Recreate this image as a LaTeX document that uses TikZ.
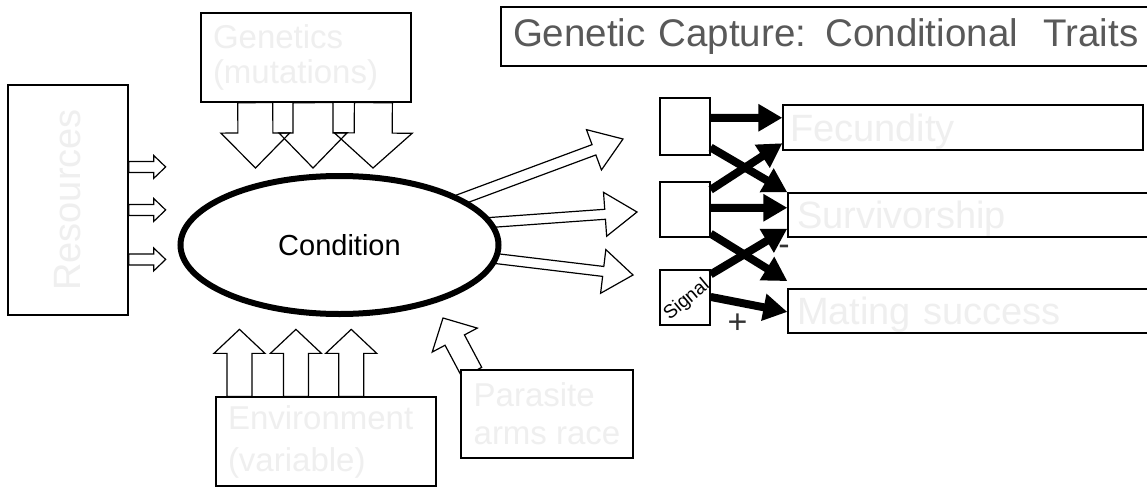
\documentclass[tikz,border=0pt]{standalone}
\usepackage{fontspec}
\setmainfont{Liberation Sans}
\usetikzlibrary{shapes.geometric,arrows.meta,calc}
\definecolor{faint}{HTML}{EFEFEF}
\definecolor{titlegrey}{HTML}{595959}
\definecolor{signgrey}{HTML}{333333}

% hollow block arrow: [style]{start}{tip}{shaft half width}{head half width}{head length}
\newcommand{\blockarrow}[6][]{%
  \coordinate (bah) at ($(#3)!#6!(#2)$);
  \path[hollow,#1] ($(#2)!#4!90:(#3)$) -- ($(bah)!#4!90:(#3)$) -- ($(bah)!#5!90:(#3)$)
    -- (#3) -- ($(bah)!#5!-90:(#3)$) -- ($(bah)!#4!-90:(#3)$) -- ($(#2)!#4!-90:(#3)$) -- cycle;}

\begin{document}
\begin{tikzpicture}[x=1pt,y=-1pt,
  box/.style={draw,line width=1.3pt,fill=white,inner sep=0pt},
  hollow/.style={draw,line width=1.2pt,line join=miter,fill=white},
  thickarrow/.style={line width=8pt,-{Triangle[length=24pt,width=26pt]}},
  bigtext/.style={text=faint,font=\fontsize{38}{44}\selectfont},
  midtext/.style={text=faint,align=left},
  signtext/.style={text=signgrey,font=\fontsize{34}{38}\selectfont,inner sep=0pt},
]
\clip (0,0) rectangle (1147,487);

% ---- title
\node[box,minimum height=59pt,text width=650pt,inner xsep=12pt,align=left,
      text=titlegrey,font=\fontsize{38.5}{44}\selectfont] (title) at (838,36.5)
  {Genetic Capture: Conditional~~Traits};

% ---- input boxes
\node[box,minimum width=120pt,minimum height=230pt,bigtext] (res) at (68,200)
  {\rotatebox{90}{Resources}};
\node[box,minimum width=210pt,minimum height=89pt,text width=186pt,inner xsep=12pt,
      midtext,font=\fontsize{33}{35}\selectfont] (gen) at (306,57.5)
  {Genetics\\(mutations)};
\node[box,minimum width=220pt,minimum height=89pt,text width=196pt,inner xsep=12pt,
      midtext,font=\fontsize{33}{42}\selectfont] (env) at (326,441.5)
  {Environment\\(variable)};

% ---- resources arrows
\foreach \i/\f in {1/0.357,2/0.543,3/0.757}{
  \coordinate (r\i s) at ($(res.north east)!\f!(res.south east)$);
  \coordinate (r\i t) at ($(r\i s)+(37,0)$);
  \blockarrow{r\i s}{r\i t}{5.5pt}{11.5pt}{12pt}
}

% ---- genetics arrows
\coordinate (g1s) at ($(gen.south west)!0.26!(gen.south east)$);
\coordinate (g2s) at ($(gen.south west)!0.533!(gen.south east)$);
\coordinate (g3s) at ($(gen.south west)!0.819!(gen.south east)$);
\coordinate (g1t) at (255.5,168);
\coordinate (g2t) at (313,168);
\coordinate (g3t) at (373,168);
\blockarrow[fill=none]{g1s}{g1t}{17.5pt}{34.5pt}{35pt}
\blockarrow[fill=none]{g2s}{g2t}{20pt}{34pt}{35pt}
\blockarrow[fill=none]{g3s}{g3t}{19pt}{39pt}{35pt}

% ---- environment arrows
\foreach \i/\f in {1/0.109,2/0.364,3/0.614}{
  \coordinate (e\i s) at ($(env.north west)!\f!(env.north east)$);
  \coordinate (e\i t) at ($(e\i s)+(0,-67)$);
  \blockarrow{e\i s}{e\i t}{12.5pt}{25.5pt}{24pt}
}

% ---- parasite arrow and box
\coordinate (pt) at (443,318);
\coordinate (ps) at (472,372.5);
\blockarrow{ps}{pt}{11pt}{25.5pt}{25pt}
\node[box,minimum width=172pt,minimum height=88pt,inner xsep=0pt,
      midtext,font=\fontsize{33}{38}\selectfont] (par) at (547,414)
  {Parasite\\arms race};

% ---- arrows out of the condition ellipse
\coordinate (oas) at (453,202.2);  \coordinate (oat) at (623,139);
\coordinate (obs) at (483,223);    \coordinate (obt) at (637,212);
\coordinate (ocs) at (487,257.5);  \coordinate (oct) at (633,275);
\blockarrow{oas}{oat}{5.5pt}{21.5pt}{31pt}
\blockarrow{obs}{obt}{5pt}{22pt}{32pt}
\blockarrow{ocs}{oct}{5pt}{22pt}{30pt}

% ---- condition
\node[draw,ellipse,line width=6pt,fill=white,minimum width=318pt,minimum height=138pt,
      font=\fontsize{29}{34}\selectfont] (cond) at (339.5,245) {Condition};

% ---- trait boxes
\node[box,minimum width=50pt,minimum height=57pt] (b1) at (685,126.5) {};
\node[box,minimum width=50pt,minimum height=55pt] (b2) at (685,209.5) {};
\node[box,minimum width=50pt,minimum height=55pt] (sig) at (685,297.5) {};
\node[rotate=40,inner sep=0pt,font=\fontsize{19}{22}\selectfont] (siglabel) at (687,300) {Signal};

\node[box,minimum width=360pt,minimum height=45pt,text width=346pt,inner xsep=7pt,
      align=left,bigtext,text depth=0pt] (fec) at (963,127.5) {Fecundity};
\node[box,minimum width=390pt,minimum height=44pt,text width=372pt,inner xsep=9pt,
      align=left,bigtext,text depth=0pt] (surv) at (983,215) {Survivorship};
\node[box,minimum width=390pt,minimum height=44pt,text width=372pt,inner xsep=9pt,
      align=left,bigtext,text depth=0pt] (mat) at (983,311) {Mating success};

% ---- trait arrows
\draw[thickarrow] ($(b1.north east)!0.35!(b1.south east)$) -- ($(fec.north west)!0.29!(fec.south west)$);
\draw[thickarrow] ($(b1.north east)!0.86!(b1.south east)$) -- (surv.north west);
\draw[thickarrow] ($(b2.north east)!0.15!(b2.south east)$) -- ($(fec.north west)!0.84!(fec.south west)$);
\draw[thickarrow] ($(b2.north east)!0.47!(b2.south east)$) -- ($(surv.north west)!0.34!(surv.south west)$);
\draw[thickarrow] ($(b2.north east)!0.93!(b2.south east)$) -- ($(mat.north west)!-0.16!(mat.south west)$);
\draw[thickarrow] ($(sig.north east)!0.09!(sig.south east)$) -- ($(surv.north west)!0.8!(surv.south west)$);
\draw[thickarrow] ($(sig.north east)!0.49!(sig.south east)$) -- ($(mat.north west)!0.52!(mat.south west)$);

\node[signtext] (minus) at (784,250.5) {-};
\node[signtext] (plus) at (737.5,324) {+};
\end{tikzpicture}
\end{document}
